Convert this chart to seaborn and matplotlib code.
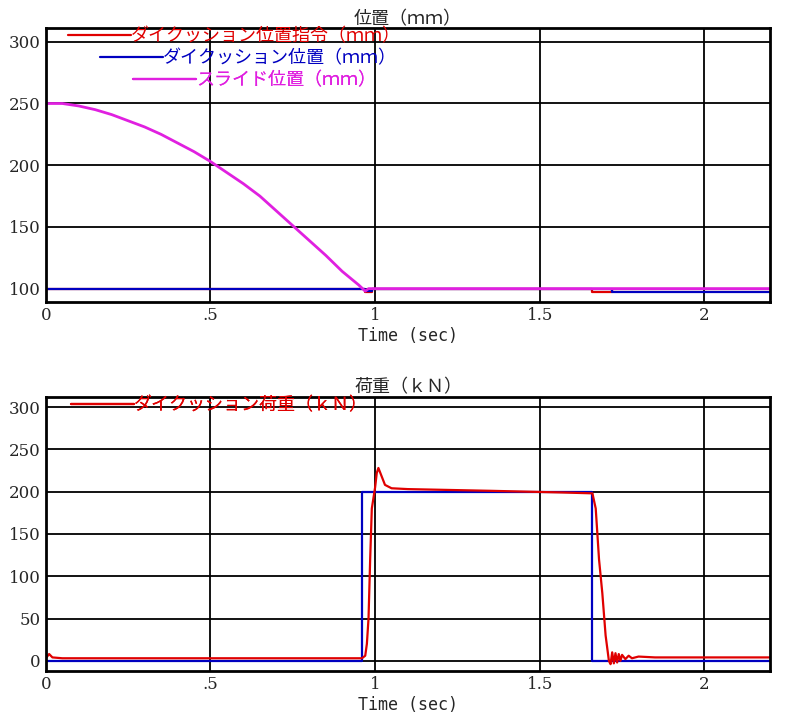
import numpy as np
import pandas as pd
import matplotlib
matplotlib.use('Agg')
import matplotlib.pyplot as plt
import seaborn as sns

sns.set_style('white')
plt.rcParams['font.family'] = ['Noto Sans CJK JP', 'DejaVu Sans']

# position panel (mm)
slide_t = [0, 0.05, 0.1, 0.15, 0.2, 0.25, 0.3, 0.35, 0.4, 0.45, 0.5, 0.55, 0.6, 0.65, 0.7, 0.75,
           0.8, 0.85, 0.9, 0.95, 0.97, 0.98, 1.0, 1.5, 2.2]
slide_mm = [250, 250, 248, 245, 241, 236, 231, 225, 218, 211, 203, 194, 185, 175, 163, 151,
            139, 127, 114, 103, 98, 100, 100, 100, 100]
cmd_t = [0, 0.97, 0.97, 0.99, 0.99, 1.66, 1.66, 1.72, 1.72, 2.2]
cmd_mm = [100, 100, 97, 97, 100, 100, 97, 97, 100, 100]
cush_t = [0, 0.97, 0.97, 0.99, 0.99, 1.72, 1.72, 2.2]
cush_mm = [100, 100, 98, 98, 100, 100, 97, 97]

# load panel (kN)
load_t = [0, 0.01, 0.02, 0.05, 0.96, 0.97, 0.975, 0.98, 0.985, 0.99, 1.0, 1.005, 1.01, 1.02, 1.03, 1.05,
          1.1, 1.35, 1.57, 1.66, 1.67, 1.675, 1.68, 1.69, 1.70, 1.71, 1.715, 1.72, 1.725, 1.73,
          1.735, 1.74, 1.745, 1.75, 1.76, 1.77, 1.78, 1.8, 1.85, 2.2]
load_kn = [3, 8, 4, 3, 3, 6, 20, 50, 120, 180, 205, 222, 228, 218, 208, 204,
           203, 201, 199, 198, 180, 150, 120, 80, 30, 0, -4, 10, -3, 9,
           -2, 8, 0, 7, 2, 6, 3, 5, 4, 4]
set_t = [0, 0.96, 0.96, 1.66, 1.66, 2.2]
set_kn = [0, 0, 200, 200, 0, 0]

xticks = [0, 0.5, 1, 1.5, 2]
xtick_labels = ['0', '.5', '1', '1.5', '2']
yticks = [100, 150, 200, 250, 300]
yticks2 = [0, 50, 100, 150, 200, 250, 300]

fig = plt.figure(figsize=(7.9, 7.23), dpi=100)
ax1 = fig.add_axes([0.058, 0.582, 0.917, 0.379])
ax2 = fig.add_axes([0.058, 0.072, 0.917, 0.379])

sns.lineplot(x=cmd_t, y=cmd_mm, ax=ax1, color='#e00000', lw=1.6, sort=False, estimator=None)
sns.lineplot(x=cush_t, y=cush_mm, ax=ax1, color='#0000c0', lw=1.6, sort=False, estimator=None)
sns.lineplot(x=slide_t, y=slide_mm, ax=ax1, color='#e020e0', lw=2, sort=False, estimator=None)
sns.lineplot(x=set_t, y=set_kn, ax=ax2, color='#0000c0', lw=1.6, sort=False, estimator=None)
sns.lineplot(x=load_t, y=load_kn, ax=ax2, color='#e00000', lw=1.6, sort=False, estimator=None)

def style(ax, yt, ylim, title):
    ax.set_xlim(0, 2.2)
    ax.set_ylim(*ylim)
    ax.set_xticks(xticks)
    ax.set_xticklabels(xtick_labels, family='DejaVu Serif')
    ax.set_yticks(yt)
    ax.set_yticklabels([str(v) for v in yt], family='DejaVu Serif')
    ax.tick_params(labelsize=12, length=0)
    ax.grid(True, color='black', lw=1.3)
    for s in ax.spines.values():
        s.set_color('black')
        s.set_linewidth(2)
    ax.set_title(title, fontsize=13, pad=3)
    ax.set_xlabel('Time (sec)', fontsize=12, family=['DejaVu Sans Mono'])
    ax.xaxis.labelpad = 2

style(ax1, yticks, (89, 311), '位置（ｍｍ）')
style(ax2, yticks2, (-12, 312), '荷重（ｋＮ）')

def add_legend(ax, color, label, x, y):
    h = plt.Line2D([], [], color=color, lw=1.6)
    leg = ax.legend([h], [label], loc='upper left', bbox_to_anchor=(x, y), frameon=False,
                    handlelength=3.5, handletextpad=0, borderaxespad=0, fontsize=13,
                    labelcolor=color)
    ax.add_artist(leg)

add_legend(ax1, '#e00000', 'ダイクッション位置指令（ｍｍ）', 0.02, 1.03)
add_legend(ax1, '#0000c0', 'ダイクッション位置（ｍｍ）', 0.065, 0.95)
add_legend(ax1, '#e020e0', 'スライド位置（ｍｍ）', 0.11, 0.87)
add_legend(ax2, '#e00000', 'ダイクッション荷重（ｋＮ）', 0.025, 1.03)

fig.savefig('out.png', dpi=100)
